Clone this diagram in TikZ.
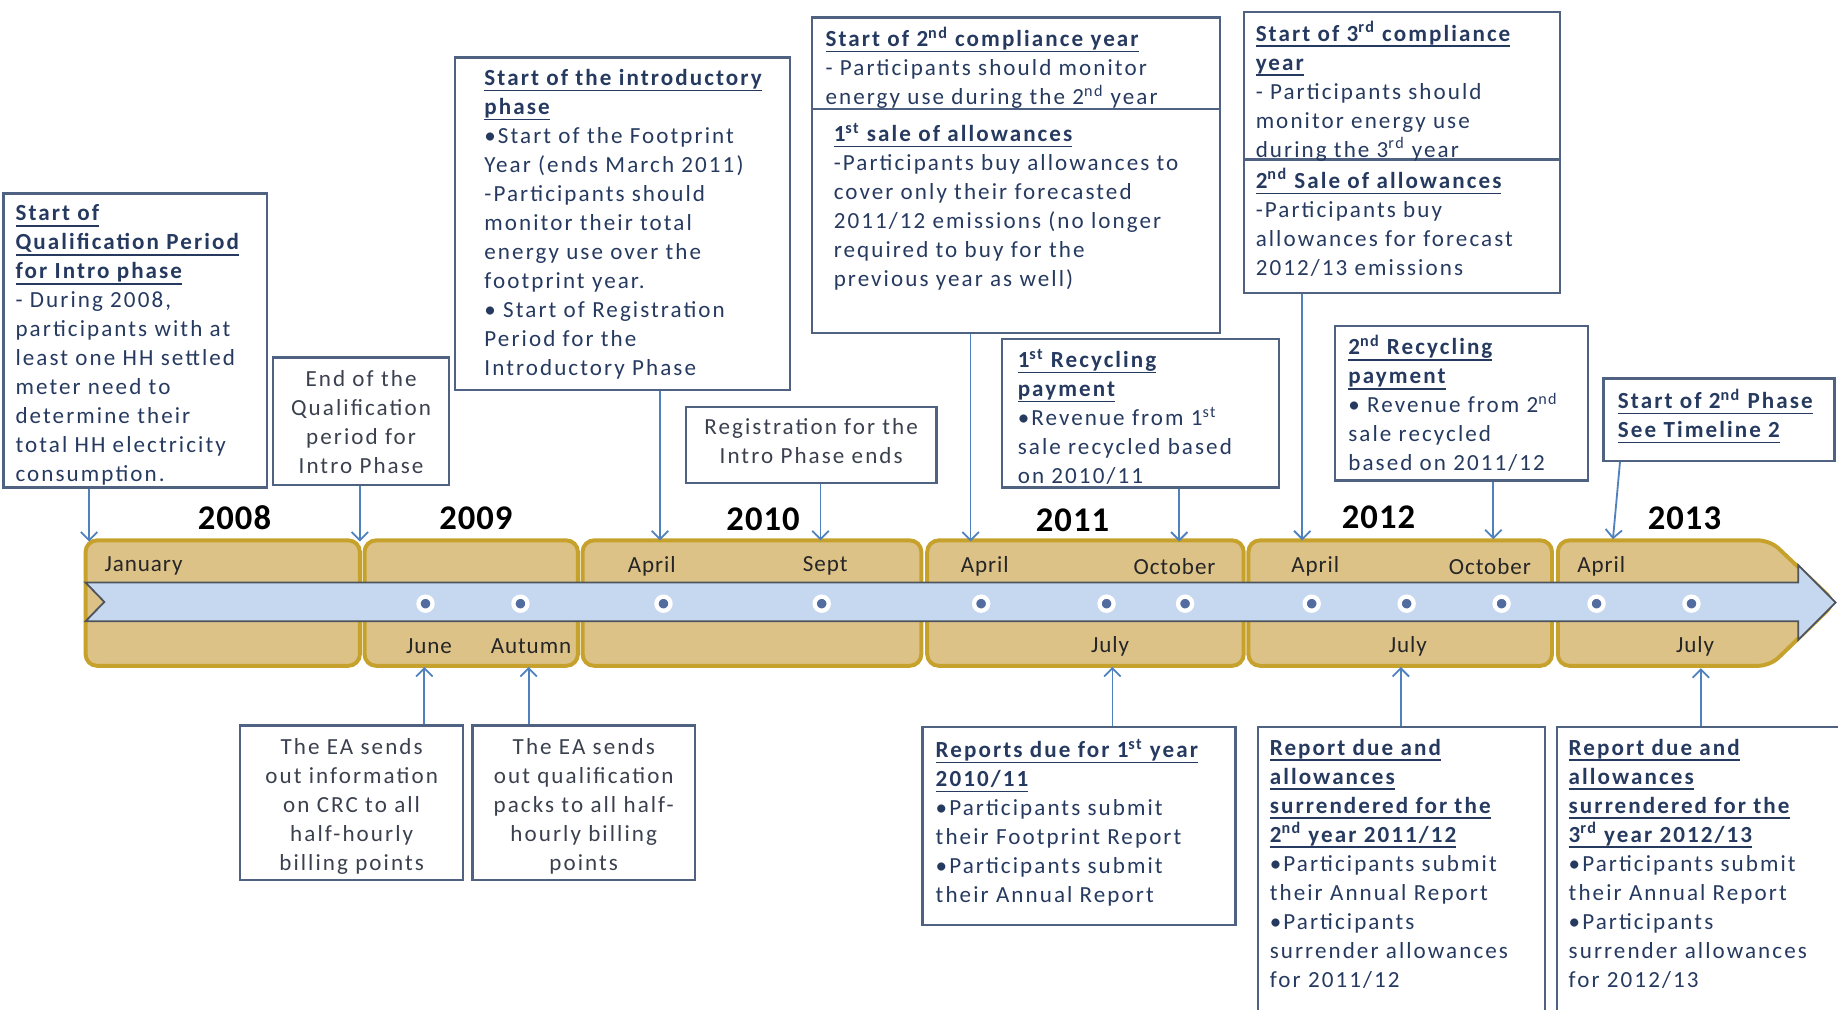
\documentclass[tikz,border=0pt]{standalone}
\usepackage{fontspec}
\setmainfont{Carlito}[LetterSpace=9]
\newfontfamily\yearfont{Carlito}[LetterSpace=3]
\newfontfamily\monthfont{Carlito}[LetterSpace=4]
\usepackage{tikz}
\usetikzlibrary{arrows.meta,fit,positioning}
\usepackage{xcolor}
\definecolor{boxblue}{RGB}{80,98,130}
\definecolor{headblue}{RGB}{38,58,96}
\definecolor{bodygray}{RGB}{58,64,78}
\definecolor{arrowblue}{RGB}{79,129,189}
\definecolor{goldfill}{RGB}{221,194,136}
\definecolor{goldline}{RGB}{198,162,44}
\definecolor{stripfill}{RGB}{198,216,240}
\definecolor{stripline}{RGB}{78,84,94}
\definecolor{dotblue}{RGB}{82,108,160}
\newcommand{\boxfont}{\fontsize{14}{17.6}\selectfont}
\newcommand{\hd}[1]{\setbox0=\hbox{\bfseries\color{headblue}#1}\rlap{\color{headblue}\rule[-3.4pt]{\wd0}{0.9pt}}\box0}
\newcommand{\nd}{\textsuperscript{nd}}
\newcommand{\st}{\textsuperscript{st}}
\newcommand{\rd}{\textsuperscript{rd}}

\begin{document}
\begin{tikzpicture}[x=0.25mm, y=-0.25mm,
    evbox/.style={draw=boxblue, line width=1.4pt, inner sep=0pt},
    evtext/.style={inner sep=0pt, align=left, anchor=north west, text=bodygray, font=\boxfont, execute at begin node=\strut},
    evcentre/.style={evtext, align=center, anchor=north},
    evarrow/.style={draw=arrowblue, line width=1.1pt, -{Straight Barb[length=5pt,width=10pt]}},
    goldseg/.style={draw=goldline, fill=goldfill, line width=2.4pt, rounded corners=7pt},
    month/.style={font=\monthfont\fontsize{14}{16}\selectfont, text=black!85, inner sep=0pt},
    year/.style={font=\yearfont\fontsize{21}{24}\selectfont\bfseries, inner sep=0pt},
    tdot/.style={circle, fill=dotblue, draw=white, line width=2.6pt, minimum size=0.3cm, inner sep=0pt}]
    \useasboundingbox (0,0) rectangle (1568,861);

    % Year segments
    \draw[goldseg] (73,461) rectangle (307,568);
    \draw[goldseg] (311,461) rectangle (493,568);
    \draw[goldseg] (497,461) rectangle (786,568);
    \draw[goldseg] (791,461) rectangle (1061,568);
    \draw[goldseg] (1065,461) rectangle (1324,568);
    \draw[goldseg] (1510,461) -- (1566,514) -- (1510,568) -- (1329,568) -- (1329,461) -- cycle;

    % Arrow band
    \draw[fill=stripfill, draw=stripline, line width=1.1pt] (73,497) -- (1534,497) -- (1534,482) -- (1566,514) -- (1534,546) -- (1534,530) -- (73,530) -- (89,513.5) -- cycle;
    \foreach \x [count=\i] in {363,444,566,701,837,944,1011,1119,1200,1281,1362,1443}
        \node[tdot] (dot\i) at (\x,515) {};

    % Years
    \node[year] (y2008) at (200,442) {2008};
    \node[year] (y2009) at (406,442) {2009};
    \node[year] (y2010) at (651,443) {2010};
    \node[year] (y2011) at (915,444) {2011};
    \node[year] (y2012) at (1176,441) {2012};
    \node[year] (y2013) at (1437,442) {2013};

    % Months
    \node[month, anchor=west] (mjan) at (89,483) {January};
    \node[month] (mapr10) at (556,483) {April};
    \node[month] (msep10) at (704,483) {Sept};
    \node[month] (mapr11) at (840,483) {April};
    \node[month] (moct11) at (1002,483) {October};
    \node[month] (mapr12) at (1122,483) {April};
    \node[month] (moct12) at (1271,483) {October};
    \node[month] (mapr13) at (1366,483) {April};
    \node[month] (mjun09) at (366,551) {June};
    \node[month] (maut09) at (453,551) {Autumn};
    \node[month] (mjul11) at (947,551) {July};
    \node[month] (mjul12) at (1201,551) {July};
    \node[month] (mjul13) at (1446,551) {July};

    % Where the connectors meet the timeline
    \coordinate (tqual) at (76,462);
    \coordinate (tendq) at (307,462);
    \coordinate (tintro) at (563,461);
    \coordinate (treg) at (700,461);
    \coordinate (tcomp2) at (828,462);
    \coordinate (trec1) at (1006,462);
    \coordinate (tcomp3) at (1111,461);
    \coordinate (trec2) at (1274,460);
    \coordinate (tphase2) at (1376,460);
    \coordinate (tinfo) at (362,569);
    \coordinate (tqpack) at (451,569);
    \coordinate (trep1) at (949,569);
    \coordinate (trep2) at (1195,569);
    \coordinate (trep3) at (1451,570);

    % Boxes above the timeline
    \node[evbox, fit={(3,165) (228,416)}] (qual) {};
    \node[evtext] (qualtext) at (13,174.5) {\hd{Start of}\\\hd{Qualification Period}\\\hd{for  Intro phase}\\- During 2008,\\participants with at\\least one HH settled\\meter need to\\determine their\\total HH electricity\\consumption.};

    \node[evbox, fit={(233,305) (383,414)}] (endq) {};
    \node[evcentre] (endqtext) at (308,315.5) {End of the\\Qualification\\period for\\Intro Phase};

    \node[evbox, fit={(388,49) (674,333)}] (intro) {};
    \node[evtext] (introtext) at (413,59) {\hd{Start of the introductory}\\\hd{phase}\\•Start of the Footprint\\Year (ends March 2011)\\-Participants should\\monitor their total\\energy use over the\\footprint year.\\• Start of Registration\\Period for the\\Introductory Phase};

    \node[evbox, fit={(585,347) (799,412)}] (reg) {};
    \node[evcentre] (regtext) at (692,357) {Registration for the\\Intro Phase ends};

    \node[evbox, fit={(693,15) (1041,93)}] (comp2a) {};
    \node[evbox, fit={(693,93) (1041,284)}] (comp2b) {};
    \node[evtext] (comp2atext) at (704,22.5) {\hd{Start of 2\nd{} compliance year}\\- Participants should monitor\\energy use during the 2\nd{} year};
    \node[evtext] (comp2btext) at (711,104.5) {\hd{1\st{} sale of allowances}\\-Participants buy allowances to\\cover  only their forecasted\\2011/12  emissions (no longer\\required to buy for the\\previous year as well)};

    \node[evbox, fit={(855,289) (1091,416)}] (rec1) {};
    \node[evtext] (rec1text) at (868,297.5) {\hd{1\st{} Recycling}\\\hd{payment}\\•Revenue from 1\st{}\\sale recycled based\\on 2010/11};

    \node[evbox, fit={(1061,10) (1331,136)}] (comp3a) {};
    \node[evbox, fit={(1061,136) (1331,250)}] (comp3b) {};
    \node[evtext] (comp3atext) at (1071,18) {\hd{Start of 3\rd{} compliance}\\\hd{year}\\- Participants should\\monitor energy use\\during the 3\rd{} year};
    \node[evtext] (comp3btext) at (1071,143.5) {\hd{2\nd{} Sale of allowances}\\-Participants buy\\allowances for forecast\\2012/13  emissions};

    \node[evbox, fit={(1139,278) (1355,410)}] (rec2) {};
    \node[evtext] (rec2text) at (1150,285.5) {\hd{2\nd{} Recycling}\\\hd{payment}\\• Revenue from 2\nd{}\\sale  recycled\\based on 2011/12};

    \node[evbox, fit={(1368,323) (1565,393)}] (phase2) {};
    \node[evtext] (phase2text) at (1380,331.5) {\hd{Start of 2\nd{} Phase}\\\hd{See Timeline 2}};

    % Boxes below the timeline
    \node[evbox, fit={(205,619) (395,751)}] (info) {};
    \node[evcentre] (infotext) at (300,630) {The EA sends\\out information\\on CRC to all\\half-hourly\\billing points};

    \node[evbox, fit={(403,619) (593,751)}] (qpack) {};
    \node[evcentre] (qpacktext) at (498,630) {The EA sends\\out qualification\\packs to all half-\\hourly billing\\points};

    \node[evbox, fit={(787,620) (1054,789)}] (rep1) {};
    \node[evtext] (rep1text) at (798,630) {\hd{Reports due for 1\st{} year}\\\hd{2010/11}\\•Participants  submit\\their Footprint Report\\•Participants submit\\their Annual Report};

    \node[evbox, fit={(1073,620) (1318,875)}] (rep2) {};
    \node[evtext] (rep2text) at (1083,630) {\hd{Report due and}\\\hd{allowances}\\\hd{surrendered  for the}\\\hd{2\nd{} year 2011/12}\\•Participants submit\\their Annual Report\\•Participants\\surrender allowances\\for 2011/12};

    \node[evbox, fit={(1328,620) (1580,875)}] (rep3) {};
    \node[evtext] (rep3text) at (1338,630) {\hd{Report due and}\\\hd{allowances}\\\hd{surrendered  for the}\\\hd{3\rd{} year 2012/13}\\•Participants submit\\their Annual Report\\•Participants\\surrender allowances\\for 2012/13};

    % Connectors
    \draw[evarrow] (qual.south -| tqual) -- (tqual);
    \draw[evarrow] (endq.south -| tendq) -- (tendq);
    \draw[evarrow] (intro.south -| tintro) -- (tintro);
    \draw[evarrow] (reg.south -| treg) -- (treg);
    \draw[evarrow] (comp2b.south -| tcomp2) -- (tcomp2);
    \draw[evarrow] (rec1.south -| trec1) -- (trec1);
    \draw[evarrow] (comp3b.south -| tcomp3) -- (tcomp3);
    \draw[evarrow] (rec2.south -| trec2) -- (trec2);
    \draw[evarrow] ([xshift=3.75mm]phase2.south west) -- (tphase2);
    \draw[evarrow] (info.north -| tinfo) -- (tinfo);
    \draw[evarrow] (qpack.north -| tqpack) -- (tqpack);
    \draw[evarrow] (rep1.north -| trep1) -- (trep1);
    \draw[evarrow] (rep2.north -| trep2) -- (trep2);
    \draw[evarrow] (rep3.north -| trep3) -- (trep3);
\end{tikzpicture}
\end{document}
